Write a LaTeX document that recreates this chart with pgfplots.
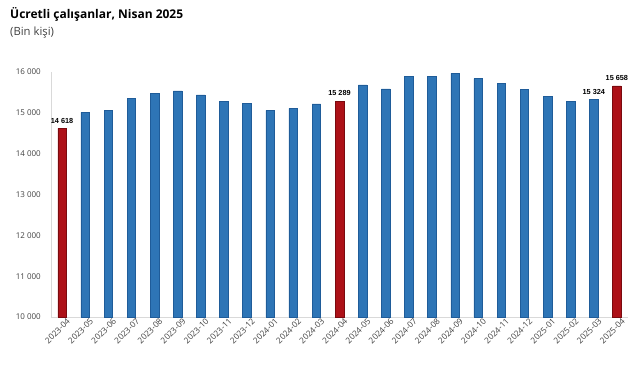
\documentclass[border=0pt]{standalone}
\usepackage{fontspec}
\setmainfont{Open Sans}
\newfontfamily\labfont{Liberation Sans}
\usepackage{pgfplots}
\pgfplotsset{compat=1.18}
\definecolor{barblue}{HTML}{2E75B6}
\definecolor{edgeblue}{HTML}{1F5C99}
\definecolor{barred}{HTML}{AD1118}
\definecolor{edgered}{HTML}{7A0A0F}
\definecolor{axgray}{HTML}{D9D9D9}
\definecolor{ticktext}{HTML}{404040}
\begin{document}
\begin{tikzpicture}
\useasboundingbox (0pt,0pt) rectangle (641pt,380pt);
\node[anchor=west,inner sep=0pt,font=\bfseries\fontsize{12}{14}\selectfont] at (10pt,366pt) {Ücretli çalışanlar, Nisan 2025};
\node[anchor=west,inner sep=0pt,font=\fontsize{11.3}{13}\selectfont,text=ticktext] at (10pt,347pt) {(Bin kişi)};
\begin{axis}[
  at={(51pt,63pt)}, anchor=south west,
  scale only axis, width=577pt, height=245pt,
  xmin=-0.48, xmax=24.48,
  ymin=10000, ymax=16000,
  ytick={10000,11000,...,16000},
  scaled y ticks=false,
  xtick={0,...,24},
  xticklabels={2023-04,2023-05,2023-06,2023-07,2023-08,2023-09,2023-10,2023-11,2023-12,2024-01,2024-02,2024-03,2024-04,2024-05,2024-06,2024-07,2024-08,2024-09,2024-10,2024-11,2024-12,2025-01,2025-02,2025-03,2025-04},
  axis x line*=bottom, axis y line*=left,
  axis line style={axgray, line width=0.8pt},
  every outer x axis line/.append style={-}, every outer y axis line/.append style={-},
  major tick length=0pt,
  tick style={draw=none},
  /pgf/number format/assume math mode=true,
  /pgf/number format/1000 sep={\ },
  yticklabel style={font=\fontsize{8}{9}\selectfont, text=ticktext, inner sep=1pt, xshift=-9pt},
  xticklabel style={font=\fontsize{8.3}{9}\selectfont, text=ticktext, rotate=45, anchor=north east, inner sep=0.5pt, xshift=3pt, yshift=-3pt},
  ybar, bar width=8.6pt, bar shift=0pt,
  nodes near coords style={font=\labfont\bfseries\fontsize{7.3}{8}\selectfont, text=black, inner sep=2pt, yshift=3pt},
  clip=false,
]
\addplot[fill=barblue, draw=edgeblue, line width=0.5pt] coordinates {
(1,15013) (2,15062) (3,15356) (4,15469) (5,15535) (6,15437) (7,15283) (8,15234)
(9,15062) (10,15111) (11,15217)
(13,15682) (14,15584) (15,15895) (16,15887) (17,15968) (18,15837) (19,15723)
(20,15568) (21,15396) (22,15283) (23,15324)
};
\addplot[fill=barred, draw=edgered, line width=0.5pt, nodes near coords] coordinates {
(0,14618) (12,15289) (24,15658)
};
\addplot[draw=none, fill=none, nodes near coords] coordinates {
(23,15324)
};
\end{axis}
\end{tikzpicture}
\end{document}
